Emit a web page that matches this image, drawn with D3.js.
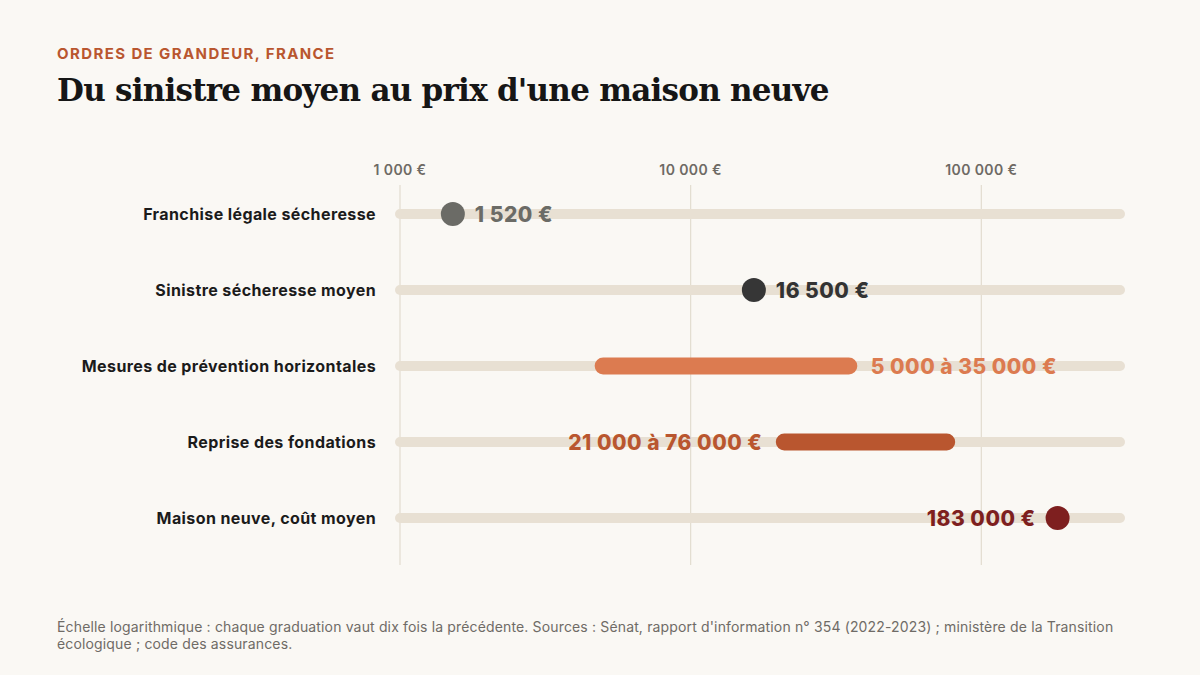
<!DOCTYPE html>
<html><head><meta charset="utf-8">
<script src="https://cdn.jsdelivr.net/npm/d3@7"></script>
<style>
html,body{margin:0;padding:0;background:#faf8f4;}
svg{display:block;font-family:Inter,"Noto Sans",sans-serif;}
</style></head>
<body>
<svg id="c" width="1200" height="675"></svg>
<script>
const categories = ["Franchise légale sécheresse","Sinistre sécheresse moyen","Mesures de prévention horizontales","Reprise des fondations","Maison neuve, coût moyen"];
const lowValues  = [1520, 16500, 5000, 21000, 183000];
const highValues = [1520, 16500, 35000, 76000, 183000];
const valueLabels = ["1 520 €","16 500 €","5 000 à 35 000 €","21 000 à 76 000 €","183 000 €"];
const labelSide = ["right","right","right","left","left"];
const colors = ["#6b6b66","#363636","#dc7b50","#b9562f","#7e1f1f"];
const labelColors = ["#6b6b66","#333333","#dc7b50","#b9562f","#7e1f1f"];
const tickValues = [1000, 10000, 100000];
const tickLabels = ["1 000 €","10 000 €","100 000 €"];
const domainMax = 300000;

const svg = d3.select("#c");
svg.append("rect").attr("width",1200).attr("height",675).attr("fill","#faf8f4");

svg.append("text").attr("x",57).attr("y",59).text("ORDRES DE GRANDEUR, FRANCE")
  .attr("font-size",15).attr("font-weight",700).attr("fill","#b9562f").attr("letter-spacing",1.4);
svg.append("text").attr("x",57).attr("y",101).text("Du sinistre moyen au prix d'une maison neuve")
  .attr("font-family","'DejaVu Serif',serif").attr("font-size",31).attr("font-weight",700).attr("fill","#161616").attr("letter-spacing",-0.75);

const x = d3.scaleLog().domain([1000, domainMax]).range([400, 1120]);
const y = d3.scalePoint().domain(categories).range([214, 518]);

// grid
svg.append("g").selectAll("line").data(tickValues).join("line")
  .attr("x1",d=>x(d)).attr("x2",d=>x(d)).attr("y1",185).attr("y2",565)
  .attr("stroke","#e2dccf").attr("stroke-width",1.2);
svg.append("g").selectAll("text").data(tickValues).join("text")
  .attr("x",d=>x(d)).attr("y",175).attr("text-anchor","middle")
  .attr("font-size",14).attr("font-weight",600).attr("fill","#6e6a64").attr("letter-spacing",0.4)
  .text((d,i)=>tickLabels[i]);

// tracks
svg.append("g").selectAll("line").data(categories).join("line")
  .attr("x1",x(1000)).attr("x2",x(domainMax)).attr("y1",d=>y(d)).attr("y2",d=>y(d))
  .attr("stroke","#e8e0d3").attr("stroke-width",10).attr("stroke-linecap","round");

// category labels
svg.append("g").selectAll("text").data(categories).join("text")
  .attr("x",376).attr("y",d=>y(d)+6).attr("text-anchor","end")
  .attr("font-size",16).attr("font-weight",700).attr("fill","#1b1b1b").attr("letter-spacing",0.4)
  .text(d=>d);

const data = categories.map((c,i)=>({c,lo:lowValues[i],hi:highValues[i],lab:valueLabels[i],side:labelSide[i],col:colors[i],lc:labelColors[i]}));
const g = svg.append("g");
data.forEach(d=>{
  const cy = y(d.c);
  if (d.lo === d.hi) {
    g.append("circle").attr("cx",x(d.lo)).attr("cy",cy).attr("r",12).attr("fill",d.col);
  } else {
    g.append("line").attr("x1",x(d.lo)).attr("x2",x(d.hi)).attr("y1",cy).attr("y2",cy)
      .attr("stroke",d.col).attr("stroke-width",17).attr("stroke-linecap","round");
  }
  const xr = x(d.hi)+22, xl = x(d.lo)-22;
  g.append("text").attr("x",d.side==="right"?xr:xl).attr("y",cy+7.5)
    .attr("text-anchor",d.side==="right"?"start":"end")
    .attr("font-size",21).attr("font-weight",800).attr("fill",d.lc).attr("letter-spacing",0.5)
    .text(d.lab);
});

svg.append("text").attr("x",57).attr("y",632).attr("font-size",14).attr("fill","#6f6b66").attr("letter-spacing",0.15)
  .text("Échelle logarithmique : chaque graduation vaut dix fois la précédente. Sources : Sénat, rapport d'information n° 354 (2022-2023) ; ministère de la Transition");
svg.append("text").attr("x",57).attr("y",649).attr("font-size",14).attr("fill","#6f6b66").attr("letter-spacing",0.15)
  .text("écologique ; code des assurances.");
</script>
</body></html>
